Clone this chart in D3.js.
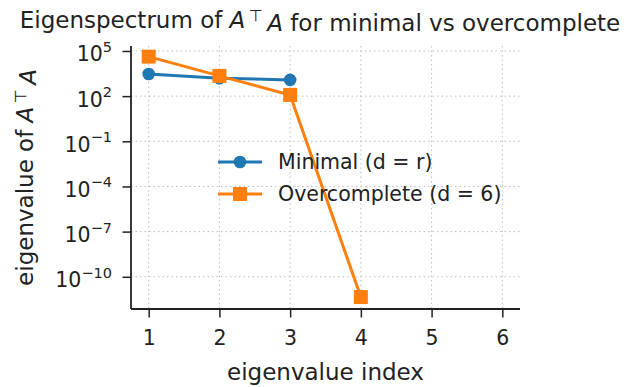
<!DOCTYPE html>
<html>
<head>
<meta charset="utf-8">
<script src="https://cdn.jsdelivr.net/npm/d3@7"></script>
<style>
  body { margin: 0; background: #fff; }
  svg text { font-family: "DejaVu Sans", sans-serif; }
  .grid line { stroke: #b0b0b0; stroke-dasharray: 1.5 3; stroke-width: 1; opacity: 0.8; }
</style>
</head>
<body>
<div id="chart"></div>
<script>
// eigenvalue index on x, eigenvalues on a log y axis
const minimalIdx = [1, 2, 3];
const minimalVals = [2950, 1550, 1200];
const overIdx = [1, 2, 3, 4];
const overVals = [42000, 2200, 120, 4.5e-12];
const xTicks = [1, 2, 3, 4, 5, 6];
const yTickExp = [5, 2, -1, -4, -7, -10];
const seriesNames = ["Minimal (d = r)", "Overcomplete (d = 6)"];
const colors = ["#1f77b4", "#ff7f0e"];

const W = 634, H = 387;
const margin = {top: 46, right: 114, bottom: 78, left: 131};
const width = W - margin.left - margin.right;
const height = H - margin.top - margin.bottom;

const svg = d3.select("#chart").append("svg")
  .attr("width", W).attr("height", H);

const g = svg.append("g")
  .attr("transform", `translate(${margin.left},${margin.top})`);

const x = d3.scaleLinear().domain([0.75, 6.25]).range([0, width]);
const y = d3.scaleLog().domain([Math.pow(10, -12.14), Math.pow(10, 5.33)]).range([height, 0]);

// grid
const grid = g.append("g").attr("class", "grid");
grid.selectAll(".gx").data(xTicks).enter().append("line")
  .attr("x1", d => x(d)).attr("x2", d => x(d))
  .attr("y1", 0).attr("y2", height);
grid.selectAll(".gy").data(yTickExp).enter().append("line")
  .attr("x1", 0).attr("x2", width)
  .attr("y1", d => y(Math.pow(10, d))).attr("y2", d => y(Math.pow(10, d)));

// axes
const xAxis = d3.axisBottom(x).tickValues(xTicks).tickFormat(d3.format("d"))
  .tickSize(8.5);
const gx = g.append("g")
  .attr("transform", `translate(0,${height})`)
  .call(xAxis);
gx.select(".domain").attr("d", `M0,0H${width}`).attr("stroke", "#222").attr("stroke-width", 1.8);
gx.selectAll(".tick line").attr("stroke", "#222").attr("stroke-width", 1.5);
gx.selectAll(".tick text")
  .style("font-size", "20.5px").style("fill", "#222")
  .attr("y", 36).attr("dy", null);

const yAxis = d3.axisLeft(y).tickValues(yTickExp.map(e => Math.pow(10, e)))
  .tickSize(8.5).tickFormat("");
const gy = g.append("g").call(yAxis);
gy.select(".domain").attr("d", `M0,${height}V0`).attr("stroke", "#222").attr("stroke-width", 1.8);
gy.selectAll(".tick line").attr("stroke", "#222").attr("stroke-width", 1.5);
gy.selectAll(".tick").each(function(d) {
  const e = Math.round(Math.log10(d));
  const t = d3.select(this).select("text")
    .attr("x", -19).attr("dy", null).attr("y", 10).attr("text-anchor", "end")
    .style("font-size", "20.5px").style("fill", "#222");
  t.text(null);
  t.append("tspan").text("10");
  t.append("tspan").attr("dy", -9.5).style("font-size", "14.5px")
    .text(String(e).replace("-", "\u2212"));
});

// lines
const line = d3.line().x(d => x(d[0])).y(d => y(d[1]));
const minimalData = minimalIdx.map((d, i) => [d, minimalVals[i]]);
const overData = overIdx.map((d, i) => [d, overVals[i]]);

g.append("path").datum(minimalData)
  .attr("fill", "none").attr("stroke", colors[0]).attr("stroke-width", 3)
  .attr("stroke-linejoin", "round").attr("d", line);
g.selectAll(".pm").data(minimalData).enter().append("circle")
  .attr("cx", d => x(d[0])).attr("cy", d => y(d[1])).attr("r", 6.3)
  .attr("fill", colors[0]);

g.append("path").datum(overData)
  .attr("fill", "none").attr("stroke", colors[1]).attr("stroke-width", 3)
  .attr("stroke-linejoin", "round").attr("d", line);
g.selectAll(".po").data(overData).enter().append("rect")
  .attr("x", d => x(d[0]) - 7).attr("y", d => y(d[1]) - 7)
  .attr("width", 14).attr("height", 14)
  .attr("fill", colors[1]);

// legend (no frame)
const legend = svg.append("g").attr("transform", "translate(218,162)");
seriesNames.forEach((name, i) => {
  const row = legend.append("g").attr("transform", `translate(0,${i * 32})`);
  row.append("line").attr("x1", 0).attr("x2", 44).attr("y1", 0).attr("y2", 0)
    .attr("stroke", colors[i]).attr("stroke-width", 3);
  if (i === 0) {
    row.append("circle").attr("cx", 22).attr("cy", 0).attr("r", 6.3).attr("fill", colors[i]);
  } else {
    row.append("rect").attr("x", 15).attr("y", -7).attr("width", 14).attr("height", 14).attr("fill", colors[i]);
  }
  row.append("text").attr("x", 60).attr("y", 0).attr("dy", "0.36em")
    .style("font-size", "20.5px").attr("fill", "#222").text(name);
});

// axis labels
svg.append("text")
  .attr("x", margin.left + width / 2).attr("y", 380)
  .attr("text-anchor", "middle").style("font-size", "23px").attr("fill", "#222")
  .text("eigenvalue index");

function mathLabel(sel, before, after) {
  sel.append("tspan").text(before);
  sel.append("tspan").attr("font-style", "italic").text("A");
  sel.append("tspan").attr("dy", "-0.45em").style("font-size", "0.7em").text("\u2009\u22A4");
  sel.append("tspan").attr("dy", "0.45em").attr("font-style", "italic").text("\u2009A");
  if (after) sel.append("tspan").text(after);
}

const yl = svg.append("text")
  .attr("transform", `translate(33,${margin.top + height / 2}) rotate(-90)`)
  .attr("text-anchor", "middle").style("font-size", "23px").attr("fill", "#222");
mathLabel(yl, "eigenvalue of ", "");

const title = svg.append("text")
  .attr("x", 320).attr("y", 28)
  .attr("text-anchor", "middle").style("font-size", "23px").attr("fill", "#222");
mathLabel(title, "Eigenspectrum of ", " for minimal vs overcomplete");
</script>
</body>
</html>
